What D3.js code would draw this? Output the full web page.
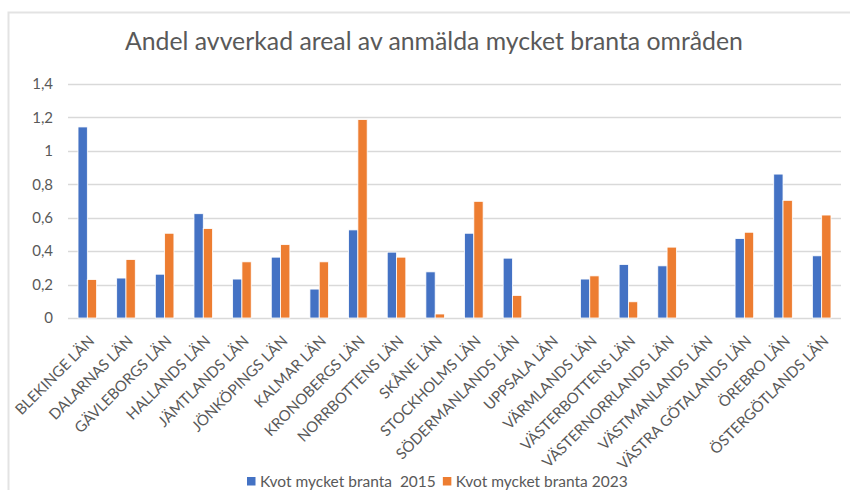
<!DOCTYPE html>
<html>
<head>
<meta charset="utf-8">
<script src="https://cdn.jsdelivr.net/npm/d3@7"></script>
<style>
  body { margin: 0; background: #fff; }
  text { font-family: Lato, "Open Sans", sans-serif; fill: #595959; }
</style>
</head>
<body>
<svg id="chart"></svg>
<script>
// counties (län)
const lan = ["BLEKINGE LÄN", "DALARNAS LÄN", "GÄVLEBORGS LÄN", "HALLANDS LÄN", "JÄMTLANDS LÄN",
    "JÖNKÖPINGS LÄN", "KALMAR LÄN", "KRONOBERGS LÄN", "NORRBOTTENS LÄN", "SKÅNE LÄN",
    "STOCKHOLMS LÄN", "SÖDERMANLANDS LÄN", "UPPSALA LÄN", "VÄRMLANDS LÄN", "VÄSTERBOTTENS LÄN",
    "VÄSTERNORRLANDS LÄN", "VÄSTMANLANDS LÄN", "VÄSTRA GÖTALANDS LÄN", "ÖREBRO LÄN", "ÖSTERGÖTLANDS LÄN"];

// Uppsala and Västmanland have no bars
const kvot2015 = [1.143, 0.239, 0.262, 0.624, 0.233, 0.364, 0.173, 0.527, 0.394, 0.276,
    0.507, 0.358, null, 0.233, 0.320, 0.312, null, 0.475, 0.861, 0.372];
const kvot2023 = [0.230, 0.350, 0.507, 0.535, 0.336, 0.439, 0.336, 1.187, 0.364, 0.024,
    0.698, 0.135, null, 0.252, 0.097, 0.424, null, 0.513, 0.704, 0.616];

const seriesNames = ["Kvot mycket branta  2015", "Kvot mycket branta 2023"];
const colors = ["#4472C4", "#ED7D31"];
const yTicks = [0, 0.2, 0.4, 0.6, 0.8, 1, 1.2, 1.4];

const margin = {top: 84, right: 9, bottom: 172, left: 68},
    svgWidth = 850,
    svgHeight = 490,
    width = svgWidth - margin.left - margin.right,
    height = svgHeight - margin.top - margin.bottom;

const fmt = d => d3.format("")(d).replace(".", ",");

const chart = d3.select("#chart")
    .attr("width", svgWidth)
    .attr("height", svgHeight);

// outer chart border
chart.append("path")
    .attr("d", "M8.5," + svgHeight + "V12.5H" + svgWidth)
    .attr("fill", "none")
    .attr("stroke", "#e3e3e3")
    .attr("stroke-width", 2);

chart.append("text")
    .attr("x", 434)
    .attr("y", 50)
    .attr("text-anchor", "middle")
    .style("font-size", "24.8px")
    .style("font-weight", 400)
    .text("Andel avverkad areal av anmälda mycket branta områden");

const g = chart.append("g")
    .attr("transform", "translate(" + margin.left + "," + margin.top + ")");

var xScale = d3.scaleBand().domain(lan).range([0, width]);
var xSub = d3.scaleBand().domain([0, 1]).range([0, 18.6]);
var yScale = d3.scaleLinear().domain([0, 1.4]).range([height, 0]);

// gridlines
g.append("g")
    .selectAll("line")
    .data(yTicks)
    .enter()
    .append("line")
    .attr("x1", 0)
    .attr("x2", width)
    .attr("y1", d => Math.round(yScale(d)) + 0.5)
    .attr("y2", d => Math.round(yScale(d)) + 0.5)
    .attr("stroke", "#d9d9d9")
    .attr("stroke-width", 1.3);

var yAxis = d3.axisLeft(yScale).tickValues(yTicks).tickFormat(fmt).tickSize(0).tickPadding(15);
g.append("g")
    .call(yAxis)
    .call(a => a.select(".domain").remove())
    .selectAll("text")
    .style("font-size", "15px")
    .style("font-family", "Lato, sans-serif")
    .attr("fill", "#595959");

// bars
[kvot2015, kvot2023].forEach(function(vals, s) {
    g.append("g")
        .selectAll("rect")
        .data(vals.map((v, i) => ({name: lan[i], value: v})).filter(d => d.value != null))
        .enter()
        .append("rect")
        .attr("x", d => xScale(d.name) + xScale.bandwidth() / 2 - 9.3 + xSub(s))
        .attr("width", xSub.bandwidth())
        .attr("y", d => yScale(d.value))
        .attr("height", d => height - yScale(d.value))
        .attr("fill", colors[s])
        .attr("stroke", "#fff")
        .attr("stroke-width", 0.8);
});

// x labels
g.append("g")
    .selectAll("text")
    .data(lan)
    .enter()
    .append("text")
    .attr("text-anchor", "end")
    .attr("transform", d => "translate(" + (xScale(d) + xScale.bandwidth() / 2 + 8) + "," + (height + 24) + ") rotate(-45)")
    .style("font-size", "15px")
    .text(d => d);

// legend
const legend = chart.append("g")
    .attr("transform", "translate(247,477)");
let lx = 0;
seriesNames.forEach(function(name, s) {
    legend.append("rect")
        .attr("x", lx)
        .attr("y", 0)
        .attr("width", 8.5)
        .attr("height", 8.5)
        .attr("fill", colors[s]);
    const t = legend.append("text")
        .attr("x", lx + 13)
        .attr("y", 9.5)
        .style("font-size", "15.5px")
        .style("white-space", "pre")
        .text(name);
    lx += 13 + t.node().getComputedTextLength() + 7;
});
</script>
</body>
</html>
